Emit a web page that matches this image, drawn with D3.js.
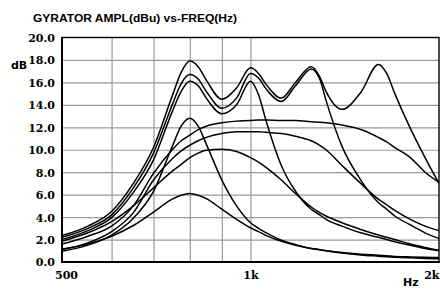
<!DOCTYPE html>
<html><head><meta charset="utf-8">
<script src="https://cdn.jsdelivr.net/npm/d3@7"></script>
<style>
html,body{margin:0;padding:0;background:#fff;}
svg{display:block;}
</style></head>
<body>
<svg id="c" width="440" height="289"></svg>
<script>
// ---- data ----
const title = "GYRATOR AMPL(dBu) vs-FREQ(Hz)";
const yLabel = "dB";
const xUnit = "Hz";
const freqs = [500,550,600,650,700,750,775,800,825,850,900,950,1000,1030,1060,1120,1180,1250,1290,1320,1400,1500,1600,1650,1700,1800,1900,2000];
const yTicks = [0,2,4,6,8,10,12,14,16,18,20];
const xTickValues = [500,1000,2000];
const xTickLabels = ["500","1k","2k"];
const xGrid = [600,700,800,900,1000];

const p4  = [2.35,3.2,4.5,7.0,10.2,14.8,16.9,17.9,17.4,16.2,14.5,15.5,17.3,16.8,15.8,14.6,16.0,17.4,16.5,15.2,13.6,15.1,17.6,16.8,15.0,11.9,9.3,7.0];
const p3  = [2.2,3.0,4.2,6.6,9.7,14.0,15.9,16.7,16.3,15.2,13.7,14.6,16.8,16.4,15.4,14.3,15.7,17.2,16.3,14.4,10.3,7.3,5.3,4.7,4.1,3.3,2.6,2.1];
const p2  = [2.0,2.8,3.95,6.2,9.1,13.4,15.2,16.1,15.7,14.6,13.2,14.0,16.1,14.9,12.5,8.6,6.3,4.7,4.2,3.8,3.2,2.6,2.2,2.0,1.8,1.5,1.2,1.0];
const pl1 = [1.6,2.3,3.2,5.0,7.9,10.0,10.8,11.3,11.8,12.1,12.4,12.55,12.6,12.65,12.65,12.6,12.6,12.5,12.45,12.4,12.2,11.8,11.1,10.7,10.2,9.3,8.0,7.1];
const pl2 = [1.1,1.7,2.7,4.4,7.3,9.2,9.9,10.4,10.8,11.1,11.45,11.6,11.6,11.6,11.55,11.45,11.2,10.8,10.4,10.0,8.6,7.0,5.6,5.1,4.6,3.8,3.2,2.8];
const b10 = [1.85,2.6,3.6,5.0,6.6,8.1,8.7,9.3,9.7,9.95,10.05,9.85,9.3,8.9,8.4,7.3,6.1,4.9,4.4,4.1,3.5,2.9,2.4,2.2,2.0,1.6,1.3,1.05];
const n12 = [0.95,1.5,2.4,3.9,6.3,10.3,12.1,12.8,12.1,10.5,7.3,5.0,3.5,3.0,2.6,1.95,1.55,1.2,1.1,1.0,0.8,0.63,0.52,0.47,0.43,0.37,0.32,0.28];
const n6  = [1.15,1.6,2.3,3.25,4.45,5.6,5.95,6.1,5.95,5.65,4.7,3.8,3.05,2.7,2.35,1.85,1.5,1.2,1.1,1.0,0.85,0.7,0.6,0.55,0.5,0.45,0.42,0.4];
const seriesList = [p4,p3,p2,pl1,pl2,b10,n12,n6];

// ---- layout ----
const L = 62, R = 439, T = 37.5, B = 262;
const svg = d3.select("#c");
svg.append("rect").attr("width",440).attr("height",289).attr("fill","#fff");
const x = d3.scaleLog().domain([500,2000]).range([L,R]);
const y = d3.scaleLinear().domain([0,20]).range([B,T]);

// grid
const gy = svg.append("g").attr("transform",`translate(${L},0)`)
  .call(d3.axisLeft(y).tickValues(yTicks.slice(1,-1)).tickSize(-(R-L)).tickFormat(""));
gy.select(".domain").remove();
gy.selectAll("line").attr("stroke","#9a9a9a").attr("stroke-width",1.2);
const gx = svg.append("g").attr("transform",`translate(0,${B})`)
  .call(d3.axisBottom(x).tickValues(xGrid).tickSize(-(B-T)).tickFormat(""));
gx.select(".domain").remove();
gx.selectAll("line").attr("stroke","#9a9a9a").attr("stroke-width",1.2);

// curves
const line = d3.line().x((d,i)=>x(freqs[i])).y(d=>y(d)).curve(d3.curveMonotoneX);
svg.append("clipPath").attr("id","pc").append("rect")
  .attr("x",L).attr("y",T).attr("width",R-L).attr("height",B-T);
svg.append("g").attr("clip-path","url(#pc)").selectAll("path").data(seriesList).join("path")
  .attr("d",line).attr("fill","none").attr("stroke","#000").attr("stroke-width",1.5);

// frame
svg.append("rect").attr("x",L).attr("y",T).attr("width",R-L).attr("height",B-T)
  .attr("fill","none").attr("stroke","#000").attr("stroke-width",1.4);
svg.append("line").attr("x1",L-1).attr("x2",R+1).attr("y1",B).attr("y2",B).attr("stroke","#000").attr("stroke-width",2.2);
svg.append("line").attr("x1",L).attr("x2",L).attr("y1",T).attr("y2",B).attr("stroke","#000").attr("stroke-width",2);

// y axis labels
const ya = svg.append("g").attr("transform",`translate(${L-7},0)`)
  .call(d3.axisLeft(y).tickValues(yTicks).tickSize(0).tickPadding(0).tickFormat(d3.format(".1f")));
ya.select(".domain").remove();
ya.selectAll("text").attr("font-family","'DejaVu Serif', serif").attr("font-weight","bold")
  .attr("font-size","11px").attr("fill","#000").attr("dy","0.36em");

// x axis labels
const xa = svg.append("g").attr("transform",`translate(0,${B})`)
  .call(d3.axisBottom(x).tickValues(xTickValues).tickSize(0).tickPadding(0)
    .tickFormat((d,i)=>xTickLabels[i]));
xa.select(".domain").remove();
xa.selectAll("text").attr("font-family","'DejaVu Serif', serif").attr("font-weight","bold")
  .attr("font-size","11px").attr("fill","#000").attr("y",17).attr("dy",0)
  .attr("dx",(d,i)=> i===0 ? 4 : 0)
  .attr("text-anchor",(d,i)=> i===2 ? "end" : "middle");

svg.append("text").attr("x",403).attr("y",286).text(xUnit)
  .attr("font-family","'DejaVu Sans', sans-serif").attr("font-weight","bold").attr("font-size","11px");
svg.append("text").attr("x",11).attr("y",69).text(yLabel)
  .attr("font-family","'DejaVu Sans', sans-serif").attr("font-weight","bold").attr("font-size","11px");
svg.append("text").attr("x",33).attr("y",22).text(title)
  .attr("font-family","'Liberation Sans', sans-serif").attr("font-weight","bold").attr("font-size","11.5px")
  .attr("textLength",204).attr("lengthAdjust","spacingAndGlyphs");
</script>
</body></html>
